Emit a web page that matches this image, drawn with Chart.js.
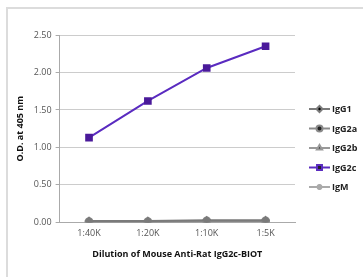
<!DOCTYPE html>
<html>
<head>
<meta charset="utf-8">
<script src="https://cdn.jsdelivr.net/npm/chart.js@4/dist/chart.umd.min.js"></script>
<style>
  html, body { margin: 0; padding: 0; background: #fff; }
  canvas { display: block; }
</style>
</head>
<body>
<canvas id="myChart" width="363" height="277"></canvas>
<script>
var dilutions = ["1:40K", "1:20K", "1:10K", "1:5K"];
var seriesNames = ["IgG1", "IgG2a", "IgG2b", "IgG2c", "IgM"];
var igg1 = [0.02, 0.02, 0.03, 0.03];
var igg2a = [0.01, 0.01, 0.02, 0.02];
var igg2b = [0.01, 0.01, 0.01, 0.02];
var igg2c = [1.13, 1.62, 2.06, 2.35];
var igm = [0.02, 0.02, 0.02, 0.02];
var yTicks = [0, 0.5, 1.0, 1.5, 2.0, 2.5];

function ds(label, data, color, pointColor, style, radius) {
  return {
    label: label,
    data: data,
    borderColor: color,
    backgroundColor: pointColor,
    pointBackgroundColor: pointColor,
    pointBorderColor: pointColor,
    pointStyle: style,
    pointRadius: radius,
    borderWidth: 2,
    tension: 0
  };
}

// frame lines around the figure
var framePlugin = {
  id: "frame",
  beforeDraw: function (chart) {
    var c = chart.ctx;
    c.save();
    c.strokeStyle = "#dcdcdc";
    c.lineWidth = 2;
    c.beginPath();
    c.moveTo(7, 277);
    c.lineTo(7, 8);
    c.lineTo(363, 8);
    c.stroke();
    c.restore();
  }
};

// legend: line with marker, then label
var legendPlugin = {
  id: "sideLegend",
  afterDraw: function (chart) {
    var c = chart.ctx;
    c.save();
    chart.data.datasets.forEach(function (d, i) {
      var y = 109 + i * 19.5;
      c.strokeStyle = d.borderColor;
      c.lineWidth = 2;
      c.beginPath();
      c.moveTo(309, y);
      c.lineTo(330, y);
      c.stroke();
      Chart.helpers.drawPoint(c, {
        pointStyle: d.pointStyle,
        radius: d.label === "IgG2c" ? 3.5 : 3,
        borderWidth: 1
      }, 319.5, y);
      c.fillStyle = "#222";
      c.font = "bold 9px 'Open Sans', sans-serif";
      c.textBaseline = "middle";
      c.fillText(d.label, 332, y + 0.5);
    });
    c.restore();
  }
};

var ctx = document.getElementById("myChart").getContext("2d");
var chart = new Chart(ctx, {
  type: "line",
  data: {
    labels: dilutions,
    datasets: [
      ds(seriesNames[0], igg1, "#7a7a7a", "#7a7a7a", "rectRot", 3),
      ds(seriesNames[1], igg2a, "#8a8a8a", "#8a8a8a", "circle", 3.5),
      ds(seriesNames[2], igg2b, "#999999", "#999999", "triangle", 3.5),
      ds(seriesNames[3], igg2c, "#5a2bc0", "#4a1a9a", "rect", 4),
      ds(seriesNames[4], igm, "#aaaaaa", "#999999", "star", 3.5)
    ]
  },
  options: {
    responsive: false,
    animation: false,
    layout: { padding: { left: 11, top: 35, right: 68, bottom: 13 } },
    plugins: {
      legend: { display: false },
      tooltip: { enabled: false }
    },
    scales: {
      x: {
        offset: true,
        grid: { display: false, drawTicks: false },
        border: { display: true, color: "#aaaaaa", width: 1 },
        ticks: {
          color: "#555",
          font: { family: "'Open Sans', sans-serif", size: 9 },
          padding: 6
        },
        title: {
          display: true,
          text: "Dilution of Mouse Anti-Rat IgG2c-BIOT",
          color: "#111",
          font: { family: "'Open Sans', sans-serif", size: 9, weight: "bold" },
          padding: { top: 4 }
        }
      },
      y: {
        min: 0,
        max: 2.5,
        afterBuildTicks: function (axis) {
          axis.ticks = yTicks.map(function (v) { return { value: v }; });
        },
        grid: { color: "#cccccc", tickLength: 4, tickColor: "#aaaaaa" },
        border: { display: true, color: "#aaaaaa" },
        ticks: {
          color: "#555",
          font: { family: "'Open Sans', sans-serif", size: 9 },
          padding: 4,
          callback: function (v) { return Number(v).toFixed(2); }
        },
        title: {
          display: true,
          text: "O.D. at 405 nm",
          color: "#111",
          font: { family: "'Open Sans', sans-serif", size: 9, weight: "bold" },
          padding: { bottom: 4 }
        }
      }
    }
  },
  plugins: [framePlugin, legendPlugin]
});
</script>
</body>
</html>
